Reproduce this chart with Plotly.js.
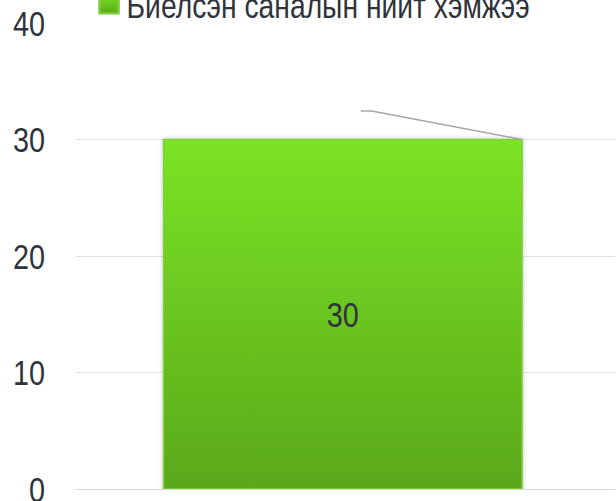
<!DOCTYPE html>
<html>
<head>
<meta charset="utf-8">
<script src="https://cdn.plot.ly/plotly-3.0.1.min.js"></script>
<style>
  html, body { margin: 0; padding: 0; background: #ffffff; }
  #chart { width: 616px; height: 501px; }
</style>
</head>
<body>
<div id="chart"></div>
<script>
// ---- data ----
const categories = [0];
const seriesName = "Биелсэн саналын нийт хэмжээ";
const seriesValues = [30];
const tickValues = [0, 10, 20, 30, 40];
const tickLabels = ["0", "10", "20", "30", "40"];

const FONT = '"Liberation Sans", Arial, sans-serif';
const NARROW = 0.8;            // horizontal squeeze to mimic a narrow face
const barWidth = 0.664;

const trace = {
  type: 'bar',
  name: seriesName,
  x: categories,
  y: seriesValues,
  width: barWidth,
  text: seriesValues.map(String),
  textposition: 'inside',
  insidetextanchor: 'middle',
  textangle: 0,
  textfont: { family: FONT, size: 36, color: '#2f333b' },
  marker: { color: '#6cc41f', line: { color: '#7fcf3c', width: 1.5 } },
  hoverinfo: 'none'
};

// leader line from the data label area to the bar's top-right corner
const vTop = seriesValues[0];
const leader = {
  type: 'path',
  xref: 'x', yref: 'y',
  path: 'M ' + (categories[0] + 0.033) + ',' + (vTop + 2.45) +
        ' L ' + (categories[0] + 0.0535) + ',' + (vTop + 2.45) +
        ' L ' + (categories[0] + barWidth / 2) + ',' + vTop,
  line: { color: '#a6a6a6', width: 1.5 }
};

const layout = {
  width: 616, height: 501,
  paper_bgcolor: '#ffffff', plot_bgcolor: '#ffffff',
  margin: { l: 75, r: 1, t: 23, b: 12, autoexpand: false },
  font: { family: FONT, color: '#2f333b' },
  showlegend: true,
  legend: {
    orientation: 'h',
    x: 0.0214, xanchor: 'left',
    y: 1.041, yanchor: 'middle',
    font: { family: FONT, size: 36, color: '#2f333b' },
    bgcolor: 'rgba(0,0,0,0)'
  },
  xaxis: {
    range: [-0.496, 0.504],
    showticklabels: false, showgrid: false, zeroline: false, showline: false,
    fixedrange: true
  },
  yaxis: {
    range: [0, 40],
    tickvals: tickValues, ticktext: tickLabels,
    showgrid: true, gridcolor: '#e3e3e3', gridwidth: 1,
    zeroline: true, zerolinecolor: '#d9d9d9', zerolinewidth: 1,
    showline: false, ticks: '', ticklabelstandoff: 29,
    ticklabeloverflow: 'allow',
    tickfont: { family: FONT, size: 36, color: '#2f333b' },
    fixedrange: true
  },
  shapes: [leader]
};

function squeeze(el, k) {
  const x = parseFloat(el.getAttribute('x')) || 0;
  const y = parseFloat(el.getAttribute('y')) || 0;
  const t = el.getAttribute('transform') || '';
  el.setAttribute('transform', t + ' translate(' + x + ',' + y + ') scale(' + k + ',1) translate(' + (-x) + ',' + (-y) + ')');
}

Plotly.newPlot('chart', [trace], layout, { displayModeBar: false, staticPlot: true }).then(function (gd) {
  const svg = gd.querySelector('svg.main-svg');
  const ns = 'http://www.w3.org/2000/svg';
  let defs = svg.querySelector('defs');
  if (!defs) { defs = document.createElementNS(ns, 'defs'); svg.insertBefore(defs, svg.firstChild); }
  const grad = document.createElementNS(ns, 'linearGradient');
  grad.setAttribute('id', 'barGrad');
  grad.setAttribute('x1', '0'); grad.setAttribute('y1', '0');
  grad.setAttribute('x2', '0'); grad.setAttribute('y2', '1');
  [['0', '#7be425'], ['1', '#5aa81a']].forEach(function (s) {
    const st = document.createElementNS(ns, 'stop');
    st.setAttribute('offset', s[0]); st.setAttribute('stop-color', s[1]);
    grad.appendChild(st);
  });
  defs.appendChild(grad);
  const filt = document.createElementNS(ns, 'filter');
  filt.setAttribute('id', 'barShadow');
  filt.setAttribute('x', '-10%'); filt.setAttribute('y', '-10%');
  filt.setAttribute('width', '120%'); filt.setAttribute('height', '120%');
  const ds = document.createElementNS(ns, 'feDropShadow');
  ds.setAttribute('dx', '0'); ds.setAttribute('dy', '0');
  ds.setAttribute('stdDeviation', '2'); ds.setAttribute('flood-color', '#000');
  ds.setAttribute('flood-opacity', '0.25');
  filt.appendChild(ds);
  defs.appendChild(filt);
  gd.querySelectorAll('.barlayer .point path').forEach(function (p) {
    p.style.fill = 'url(#barGrad)';
    p.setAttribute('filter', 'url(#barShadow)');
  });
  gd.querySelectorAll('.legend .legendpoints path').forEach(function (p) {
    p.style.fill = 'url(#barGrad)';
    p.style.stroke = '#7fcf3c';
    p.setAttribute('transform', 'translate(22.5,0) scale(1.6)');
  });
  gd.querySelectorAll('.ytick text, .bartext').forEach(function (t) {
    squeeze(t, NARROW);
  });
  gd.querySelectorAll('.legendtext').forEach(function (t) {
    squeeze(t, 0.785);
  });
});
</script>
</body>
</html>
